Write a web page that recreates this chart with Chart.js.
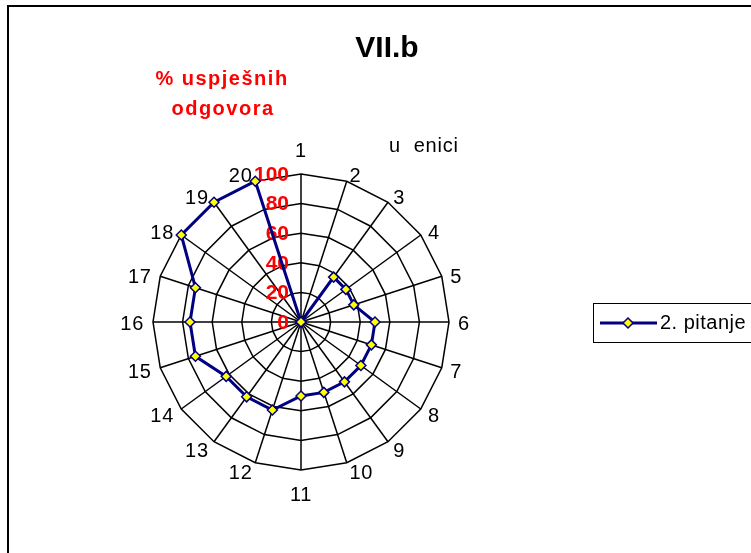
<!DOCTYPE html>
<html>
<head>
<meta charset="utf-8">
<script src="https://cdn.jsdelivr.net/npm/chart.js@4/dist/chart.umd.min.js"></script>
<style>
  html, body { margin: 0; padding: 0; background: #fff; }
  #wrap { width: 751px; height: 553px; position: relative; }
</style>
</head>
<body>
<div id="wrap"><canvas id="radarChart" width="751" height="553"></canvas></div>
<script>
// category labels around the radar (students)
var categories = ['1', '2', '3', '4', '5', '6', '7', '8', '9', '10',
                  '11', '12', '13', '14', '15', '16', '17', '18', '19', '20'];
var seriesName = '2. pitanje';
// % of successful answers per student
var seriesValues = [0, 0, 37.5, 37.5, 37.5, 50, 50, 50, 50, 50,
                    50, 62.5, 62.5, 62.5, 75, 75, 75, 100, 100, 100];
var tickValues = [0, 20, 40, 60, 80, 100];

var navy = '#000080';
var fontFamily = 'Arial, "Liberation Sans", sans-serif';

// border, titles, red tick labels, category labels placed the Excel way
var decorations = {
    id: 'decorations',
    beforeDraw: function(chart) {
        var c = chart.ctx;
        c.save();
        c.fillStyle = '#fff';
        c.fillRect(0, 0, chart.width, chart.height);
        c.fillStyle = '#000';
        c.fillRect(7, 5, 2, chart.height);
        c.fillRect(7, 5, chart.width, 2);
        c.restore();
    },
    beforeDatasetsDraw: function(chart) {
        var scale = chart.scales.r;
        var c = chart.ctx;
        c.save();
        c.fillStyle = '#FF0000';
        c.font = 'bold 21px ' + fontFamily;
        c.textAlign = 'right';
        c.textBaseline = 'middle';
        tickValues.forEach(function(v) {
            var d = scale.getDistanceFromCenterForValue(v);
            c.fillText(String(v), scale.xCenter - 12, scale.yCenter - d + 1);
        });

        // category labels: vertically centred on the spoke, side-aligned
        c.fillStyle = '#000';
        c.font = '20px ' + fontFamily;
        c.letterSpacing = '0.7px';
        var n = categories.length;
        categories.forEach(function(label, i) {
            var a = i * 2 * Math.PI / n;
            var s = Math.sin(a);
            var p, align, y;
            if (Math.abs(s) < 0.001) {
                p = scale.getPointPosition(i, scale.drawingArea + 24);
                align = 'center';
                y = p.y + 1;
            } else {
                p = scale.getPointPosition(i, scale.drawingArea + 9);
                align = s > 0 ? 'left' : 'right';
                y = p.y < scale.yCenter ? p.y + 4 : p.y + 2;
            }
            c.textAlign = align;
            c.fillText(label, p.x, y);
        });
        c.restore();
    },
    afterDraw: function(chart) {
        var c = chart.ctx;
        c.save();
        c.fillStyle = '#000';
        c.textAlign = 'center';
        c.textBaseline = 'middle';
        c.font = 'bold 30px ' + fontFamily;
        c.fillText('VII.b', 387, 49);

        c.fillStyle = '#FF0000';
        c.font = 'bold 20px ' + fontFamily;
        c.letterSpacing = '1.5px';
        c.fillText('% uspješnih', 222, 79);
        c.fillText('odgovora', 223, 109);

        c.fillStyle = '#000';
        c.font = '20px ' + fontFamily;
        c.letterSpacing = '0.8px';
        c.textAlign = 'left';
        c.fillText('u  enici', 389, 146);

        // legend
        var ds = chart.data.datasets[0];
        c.strokeStyle = '#000';
        c.lineWidth = 1;
        c.strokeRect(593.5, 303.5, 200, 39);
        c.strokeStyle = ds.borderColor;
        c.lineWidth = 3;
        c.beginPath();
        c.moveTo(600, 323);
        c.lineTo(657, 323);
        c.stroke();
        c.beginPath();
        c.moveTo(628, 318);
        c.lineTo(633, 323);
        c.lineTo(628, 328);
        c.lineTo(623, 323);
        c.closePath();
        c.fillStyle = ds.pointBackgroundColor;
        c.fill();
        c.lineWidth = 1.5;
        c.stroke();
        c.fillStyle = '#000';
        c.letterSpacing = '0.5px';
        c.fillText(ds.label, 660, 323);
        c.restore();
    }
};

var ctx = document.getElementById('radarChart').getContext('2d');
var radarChart = new Chart(ctx, {
    type: 'radar',
    data: {
        labels: categories,
        datasets: [{
            label: seriesName,
            data: seriesValues,
            borderColor: navy,
            borderWidth: 3,
            fill: false,
            tension: 0,
            pointStyle: 'rectRot',
            pointRadius: 5,
            pointBorderWidth: 1.5,
            pointBackgroundColor: '#FFFF00',
            pointBorderColor: navy
        }]
    },
    options: {
        responsive: false,
        animation: false,
        layout: {
            padding: { left: 153, right: 302, top: 174, bottom: 83 }
        },
        plugins: {
            legend: { display: false },
            title: { display: false },
            tooltip: { enabled: false }
        },
        scales: {
            r: {
                min: 0,
                max: 100,
                ticks: { stepSize: 20, display: false },
                grid: { color: '#000', lineWidth: 1.5 },
                angleLines: { color: '#000', lineWidth: 1.5 },
                pointLabels: { display: false }
            }
        }
    },
    plugins: [decorations]
});
</script>
</body>
</html>
